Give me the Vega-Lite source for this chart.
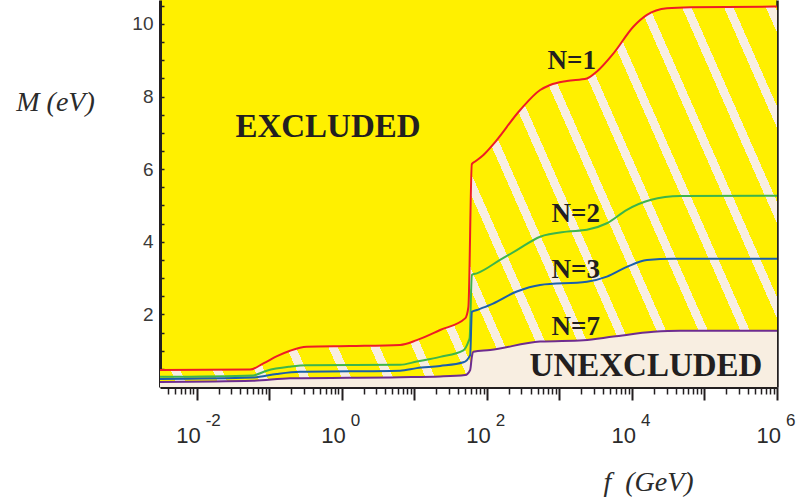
{
  "$schema": "https://vega.github.io/schema/vega-lite/v6.json",
  "width": 617,
  "height": 387,
  "autosize": {"type": "none"},
  "padding": {"left": 160, "top": 0, "right": 21, "bottom": 115},
  "background": "white",
  "config": {"view": {"fill": "#FFF000", "stroke": null}, "axis": {"grid": false}},
  "datasets": {
    "curves": [
      {"N": 1, "f": 0.003119, "M": 0.47}, {"N": 1, "f": 0.0543, "M": 0.48}, {"N": 1, "f": 0.083, "M": 0.65}, {"N": 1, "f": 0.128, "M": 0.85},
      {"N": 1, "f": 0.1936, "M": 1.0}, {"N": 1, "f": 0.329, "M": 1.11}, {"N": 1, "f": 1.3, "M": 1.13}, {"N": 1, "f": 6.37, "M": 1.16},
      {"N": 1, "f": 10.8, "M": 1.29}, {"N": 1, "f": 22.7, "M": 1.57}, {"N": 1, "f": 50.2, "M": 1.89}, {"N": 1, "f": 55.7, "M": 2.21},
      {"N": 1, "f": 62.1, "M": 6.14}, {"N": 1, "f": 69.0, "M": 6.21}, {"N": 1, "f": 89.7, "M": 6.39}, {"N": 1, "f": 123, "M": 6.69},
      {"N": 1, "f": 288, "M": 7.63}, {"N": 1, "f": 543, "M": 8.18}, {"N": 1, "f": 746, "M": 8.32}, {"N": 1, "f": 1268, "M": 8.43},
      {"N": 1, "f": 2393, "M": 8.5}, {"N": 1, "f": 3289, "M": 8.69}, {"N": 1, "f": 5572, "M": 9.19}, {"N": 1, "f": 10520, "M": 9.93},
      {"N": 1, "f": 16110, "M": 10.25}, {"N": 1, "f": 30410, "M": 10.43}, {"N": 1, "f": 63680, "M": 10.46}, {"N": 1, "f": 1000000, "M": 10.48},
      {"N": 2, "f": 0.003119, "M": 0.28}, {"N": 2, "f": 0.0598, "M": 0.32}, {"N": 2, "f": 0.0925, "M": 0.45}, {"N": 2, "f": 0.1936, "M": 0.56},
      {"N": 2, "f": 0.329, "M": 0.6}, {"N": 2, "f": 6.37, "M": 0.61}, {"N": 2, "f": 10.8, "M": 0.7}, {"N": 2, "f": 22.7, "M": 0.83},
      {"N": 2, "f": 47.5, "M": 1.01}, {"N": 2, "f": 55.7, "M": 1.25}, {"N": 2, "f": 57.9, "M": 1.35}, {"N": 2, "f": 62.1, "M": 3.09},
      {"N": 2, "f": 72.8, "M": 3.13}, {"N": 2, "f": 152, "M": 3.5}, {"N": 2, "f": 259, "M": 3.77}, {"N": 2, "f": 543, "M": 4.14},
      {"N": 2, "f": 1268, "M": 4.28}, {"N": 2, "f": 2393, "M": 4.33}, {"N": 2, "f": 4519, "M": 4.51}, {"N": 2, "f": 8531, "M": 4.88},
      {"N": 2, "f": 17910, "M": 5.15}, {"N": 2, "f": 46450, "M": 5.26}, {"N": 2, "f": 1000000, "M": 5.27},
      {"N": 3, "f": 0.003119, "M": 0.22}, {"N": 3, "f": 0.0598, "M": 0.26}, {"N": 3, "f": 0.1268, "M": 0.36}, {"N": 3, "f": 0.266, "M": 0.42},
      {"N": 3, "f": 6.37, "M": 0.45}, {"N": 3, "f": 10.8, "M": 0.52}, {"N": 3, "f": 22.7, "M": 0.58}, {"N": 3, "f": 47.5, "M": 0.68},
      {"N": 3, "f": 58.9, "M": 0.88}, {"N": 3, "f": 62.1, "M": 2.07}, {"N": 3, "f": 72.8, "M": 2.12}, {"N": 3, "f": 111, "M": 2.26},
      {"N": 3, "f": 259, "M": 2.63}, {"N": 3, "f": 543, "M": 2.81}, {"N": 3, "f": 2393, "M": 2.9}, {"N": 3, "f": 4519, "M": 3.04},
      {"N": 3, "f": 8531, "M": 3.31}, {"N": 3, "f": 16110, "M": 3.5}, {"N": 3, "f": 37500, "M": 3.53}, {"N": 3, "f": 1000000, "M": 3.53},
      {"N": 7, "f": 0.003119, "M": 0.14}, {"N": 7, "f": 0.0598, "M": 0.17}, {"N": 7, "f": 0.1936, "M": 0.24}, {"N": 7, "f": 6.37, "M": 0.27},
      {"N": 7, "f": 22.7, "M": 0.29}, {"N": 7, "f": 50.2, "M": 0.33}, {"N": 7, "f": 58.9, "M": 0.47}, {"N": 7, "f": 62.1, "M": 0.83},
      {"N": 7, "f": 65.3, "M": 0.97}, {"N": 7, "f": 111, "M": 1.02}, {"N": 7, "f": 543, "M": 1.25}, {"N": 7, "f": 2148, "M": 1.29},
      {"N": 7, "f": 5572, "M": 1.39}, {"N": 7, "f": 19860, "M": 1.52}, {"N": 7, "f": 46450, "M": 1.55}, {"N": 7, "f": 1000000, "M": 1.55}
    ],
    "labels": [
      {"text": "N=1", "f": 1479, "M": 8.98, "kind": "n"},
      {"text": "N=2", "f": 1683, "M": 4.77, "kind": "n"},
      {"text": "N=3", "f": 1683, "M": 3.22, "kind": "n"},
      {"text": "N=7", "f": 1683, "M": 1.65, "kind": "n"},
      {"text": "EXCLUDED", "f": 0.646, "M": 7.16, "kind": "region"},
      {"text": "UNEXCLUDED", "f": 15630, "M": 0.58, "kind": "region"}
    ]
  },
  "resolve": {"axis": {"x": "independent", "y": "independent"}},
  "layer": [
    {
      "data": {"name": "curves"},
      "transform": [{"filter": "datum.N == 1"}],
      "mark": {
        "type": "area",
        "interpolate": "monotone",
        "clip": true,
        "fill": {
          "gradient": "linear",
          "x1": 0, "y1": 1, "x2": 1.1841, "y2": 0.6788,
          "stops": [
            {"offset": 0, "color": "#FFF000"},
            {"offset": 0.0233, "color": "#FFF000"}, {"offset": 0.0233, "color": "#F8EEE1"}, {"offset": 0.0353, "color": "#F8EEE1"}, {"offset": 0.0353, "color": "#FFF000"},
            {"offset": 0.0768, "color": "#FFF000"}, {"offset": 0.0768, "color": "#F8EEE1"}, {"offset": 0.0888, "color": "#F8EEE1"}, {"offset": 0.0888, "color": "#FFF000"},
            {"offset": 0.1302, "color": "#FFF000"}, {"offset": 0.1302, "color": "#F8EEE1"}, {"offset": 0.1422, "color": "#F8EEE1"}, {"offset": 0.1422, "color": "#FFF000"},
            {"offset": 0.1837, "color": "#FFF000"}, {"offset": 0.1837, "color": "#F8EEE1"}, {"offset": 0.1957, "color": "#F8EEE1"}, {"offset": 0.1957, "color": "#FFF000"},
            {"offset": 0.2371, "color": "#FFF000"}, {"offset": 0.2371, "color": "#F8EEE1"}, {"offset": 0.2491, "color": "#F8EEE1"}, {"offset": 0.2491, "color": "#FFF000"},
            {"offset": 0.2906, "color": "#FFF000"}, {"offset": 0.2906, "color": "#F8EEE1"}, {"offset": 0.3026, "color": "#F8EEE1"}, {"offset": 0.3026, "color": "#FFF000"},
            {"offset": 0.344, "color": "#FFF000"}, {"offset": 0.344, "color": "#F8EEE1"}, {"offset": 0.356, "color": "#F8EEE1"}, {"offset": 0.356, "color": "#FFF000"},
            {"offset": 0.3975, "color": "#FFF000"}, {"offset": 0.3975, "color": "#F8EEE1"}, {"offset": 0.4095, "color": "#F8EEE1"}, {"offset": 0.4095, "color": "#FFF000"},
            {"offset": 0.4509, "color": "#FFF000"}, {"offset": 0.4509, "color": "#F8EEE1"}, {"offset": 0.4629, "color": "#F8EEE1"}, {"offset": 0.4629, "color": "#FFF000"},
            {"offset": 0.5044, "color": "#FFF000"}, {"offset": 0.5044, "color": "#F8EEE1"}, {"offset": 0.5164, "color": "#F8EEE1"}, {"offset": 0.5164, "color": "#FFF000"},
            {"offset": 0.5578, "color": "#FFF000"}, {"offset": 0.5578, "color": "#F8EEE1"}, {"offset": 0.5698, "color": "#F8EEE1"}, {"offset": 0.5698, "color": "#FFF000"},
            {"offset": 0.6113, "color": "#FFF000"}, {"offset": 0.6113, "color": "#F8EEE1"}, {"offset": 0.6233, "color": "#F8EEE1"}, {"offset": 0.6233, "color": "#FFF000"},
            {"offset": 0.6647, "color": "#FFF000"}, {"offset": 0.6647, "color": "#F8EEE1"}, {"offset": 0.6767, "color": "#F8EEE1"}, {"offset": 0.6767, "color": "#FFF000"},
            {"offset": 0.7182, "color": "#FFF000"}, {"offset": 0.7182, "color": "#F8EEE1"}, {"offset": 0.7302, "color": "#F8EEE1"}, {"offset": 0.7302, "color": "#FFF000"},
            {"offset": 0.7716, "color": "#FFF000"}, {"offset": 0.7716, "color": "#F8EEE1"}, {"offset": 0.7836, "color": "#F8EEE1"}, {"offset": 0.7836, "color": "#FFF000"},
            {"offset": 0.8251, "color": "#FFF000"}, {"offset": 0.8251, "color": "#F8EEE1"}, {"offset": 0.8371, "color": "#F8EEE1"}, {"offset": 0.8371, "color": "#FFF000"},
            {"offset": 0.8785, "color": "#FFF000"}, {"offset": 0.8785, "color": "#F8EEE1"}, {"offset": 0.8905, "color": "#F8EEE1"}, {"offset": 0.8905, "color": "#FFF000"},
            {"offset": 0.932, "color": "#FFF000"}, {"offset": 0.932, "color": "#F8EEE1"}, {"offset": 0.944, "color": "#F8EEE1"}, {"offset": 0.944, "color": "#FFF000"},
            {"offset": 0.9854, "color": "#FFF000"}, {"offset": 0.9854, "color": "#F8EEE1"}, {"offset": 0.9974, "color": "#F8EEE1"}, {"offset": 0.9974, "color": "#FFF000"},
            {"offset": 1, "color": "#FFF000"}
          ]
        }
      },
      "encoding": {
        "x": {
          "field": "f", "type": "quantitative",
          "scale": {"type": "log", "domain": [0.003119, 1000000], "nice": false},
          "axis": {
            "orient": "bottom",
            "title": null,
            "values": [0.004, 0.005, 0.006, 0.007, 0.008, 0.009,
              0.01, 0.02, 0.03, 0.04, 0.05, 0.06, 0.07, 0.08, 0.09,
              0.1, 0.2, 0.3, 0.4, 0.5, 0.6, 0.7, 0.8, 0.9,
              1, 2, 3, 4, 5, 6, 7, 8, 9,
              10, 20, 30, 40, 50, 60, 70, 80, 90,
              100, 200, 300, 400, 500, 600, 700, 800, 900,
              1000, 2000, 3000, 4000, 5000, 6000, 7000, 8000, 9000,
              10000, 20000, 30000, 40000, 50000, 60000, 70000, 80000, 90000,
              100000, 200000, 300000, 400000, 500000, 600000, 700000, 800000, 900000,
              1000000],
            "domainColor": "#231F20", "domainWidth": 3,
            "tickColor": "#231F20",
            "tickSize": {"condition": {"test": "abs(log(datum.value)/LN10 - round(log(datum.value)/LN10)) < 0.001", "value": 13}, "value": 7},
            "tickWidth": {"condition": {"test": "abs(log(datum.value)/LN10 - round(log(datum.value)/LN10)) < 0.001", "value": 2}, "value": 1.5},
            "labelExpr": "abs(log(datum.value)/LN10/2 - round(log(datum.value)/LN10/2)) < 0.001 ? '10' : ''",
            "labelFont": "Liberation Sans", "labelFontSize": 22, "labelColor": "#2b2b2b",
            "labelAlign": "right", "labelBaseline": "alphabetic", "labelOffset": 3.5, "labelPadding": 42,
            "labelOverlap": false, "labelFlush": false, "labelBound": false
          }
        },
        "y": {
          "field": "M", "type": "quantitative",
          "scale": {"domain": [0, 10.66], "nice": false, "zero": false},
          "axis": {
            "orient": "left",
            "values": [0.5, 1, 1.5, 2, 2.5, 3, 3.5, 4, 4.5, 5, 5.5, 6, 6.5, 7, 7.5, 8, 8.5, 9, 9.5, 10, 10.5],
            "title": "M (eV)",
            "titleAngle": 0, "titleX": -105, "titleY": 110, "titleAlign": "center", "titleBaseline": "alphabetic",
            "titleFont": "Liberation Serif", "titleFontStyle": "italic", "titleFontWeight": "normal", "titleFontSize": 28, "titleColor": "#2b2b2b",
            "domainColor": "#231F20", "domainWidth": 3,
            "tickColor": "#231F20", "tickSize": -4, "tickWidth": 1.5,
            "labelExpr": "datum.value % 2 == 0 ? '' + datum.value : ''",
            "labelFont": "Liberation Sans", "labelFontSize": 19, "labelColor": "#3a3a3a",
            "labelPadding": 11, "labelOverlap": false, "labelBound": false, "labelFlush": false
          }
        },
        "y2": {"datum": 0}
      }
    },
    {
      "data": {"name": "curves"},
      "transform": [{"filter": "datum.N == 7"}],
      "mark": {"type": "area", "interpolate": "monotone", "clip": true, "fill": "#F8EEE1"},
      "encoding": {
        "x": {
          "field": "f", "type": "quantitative",
          "scale": {"type": "log", "domain": [0.003119, 1000000], "nice": false},
          "axis": {
            "orient": "bottom",
            "values": [0.01, 1, 100, 10000, 1000000],
            "title": "f\u2002(GeV)",
            "titleX": 488, "titleY": 103, "titleAlign": "center", "titleBaseline": "alphabetic",
            "titleFont": "Liberation Serif", "titleFontStyle": "italic", "titleFontWeight": "normal", "titleFontSize": 28, "titleColor": "#2b2b2b",
            "domain": false, "ticks": false,
            "labelExpr": "'' + round(log(datum.value)/LN10)",
            "labelFont": "Liberation Sans", "labelFontSize": 17, "labelColor": "#2b2b2b",
            "labelAlign": "left", "labelBaseline": "alphabetic", "labelOffset": 8.5, "labelPadding": 38,
            "labelOverlap": false, "labelFlush": false, "labelBound": false
          }
        },
        "y": {
          "field": "M", "type": "quantitative",
          "scale": {"domain": [0, 10.66], "nice": false, "zero": false},
          "axis": {"orient": "right", "title": null, "labels": false, "ticks": false, "domain": true, "domainColor": "#231F20", "domainWidth": 2.5}
        },
        "y2": {"datum": 0}
      }
    },
    {
      "data": {"name": "curves"},
      "mark": {"type": "line", "interpolate": "monotone", "strokeWidth": 2, "clip": true},
      "encoding": {
        "x": {"field": "f", "type": "quantitative", "scale": {"type": "log", "domain": [0.003119, 1000000], "nice": false}, "axis": null},
        "y": {"field": "M", "type": "quantitative", "scale": {"domain": [0, 10.66], "nice": false, "zero": false}, "axis": null},
        "color": {"field": "N", "type": "nominal", "scale": {"domain": [1, 2, 3, 7], "range": ["#EE1C25", "#3DB54A", "#1B5FAA", "#6E2C90"]}, "legend": null}
      }
    },
    {
      "data": {"name": "labels"},
      "transform": [{"filter": "datum.kind == 'n'"}],
      "mark": {"type": "text", "font": "Liberation Serif", "fontWeight": "bold", "fontSize": 27, "color": "#231F20", "align": "center", "baseline": "middle"},
      "encoding": {
        "x": {"field": "f", "type": "quantitative", "scale": {"type": "log", "domain": [0.003119, 1000000], "nice": false}, "axis": null},
        "y": {"field": "M", "type": "quantitative", "scale": {"domain": [0, 10.66], "nice": false, "zero": false}, "axis": null},
        "text": {"field": "text"}
      }
    },
    {
      "data": {"name": "labels"},
      "transform": [{"filter": "datum.kind == 'region'"}],
      "mark": {"type": "text", "font": "Liberation Serif", "fontWeight": "bold", "fontSize": 33, "color": "#231F20", "align": "center", "baseline": "middle"},
      "encoding": {
        "x": {"field": "f", "type": "quantitative", "scale": {"type": "log", "domain": [0.003119, 1000000], "nice": false}, "axis": null},
        "y": {"field": "M", "type": "quantitative", "scale": {"domain": [0, 10.66], "nice": false, "zero": false}, "axis": null},
        "text": {"field": "text"}
      }
    }
  ]
}
